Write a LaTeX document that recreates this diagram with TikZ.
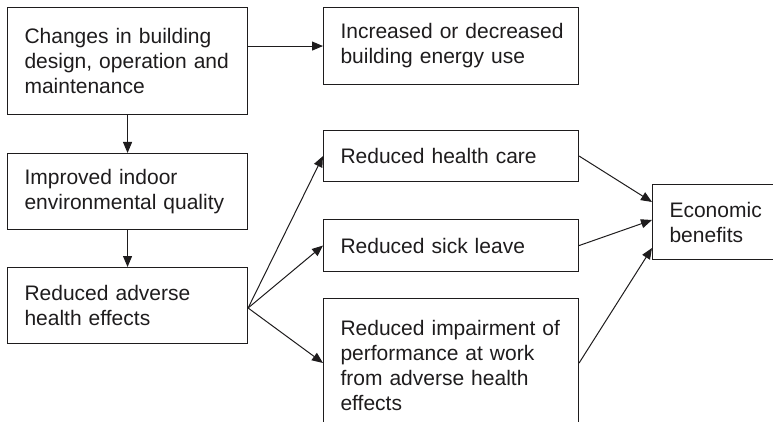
\documentclass[tikz,border=0pt]{standalone}
\usepackage{fontspec}
\setmainfont{Liberation Sans}
\usetikzlibrary{arrows.meta,calc}
\definecolor{ink}{RGB}{30,28,29}
\begin{document}
\begin{tikzpicture}[x=1pt,y=-1pt,
  boxnode/.style={draw=ink, text=ink, line width=1.1pt, anchor=north west, align=left,
    inner xsep=17pt, inner ysep=0pt, font=\fontsize{21}{25}\selectfont},
  conn/.style={draw=ink, line width=1pt, -{Triangle[length=11pt,width=9pt]}}]
\clip (0,0) rectangle (773,422);
\node[boxnode, text width=206pt, minimum height=107pt] (b1) at (7,7)
  {Changes in building\\\mbox{design, operation and}\\maintenance};
\node[boxnode, text width=221pt, minimum height=77pt] (b2) at (323,7)
  {\mbox{Increased or decreased}\\building energy use};
\node[boxnode, text width=206pt, minimum height=76pt] (b3) at (7,153)
  {Improved indoor\\\mbox{environmental quality}};
\node[boxnode, text width=206pt, minimum height=76pt] (b4) at (7,267)
  {Reduced adverse\\health effects};
\node[boxnode, text width=221pt, minimum height=51pt] (b5) at (323,130)
  {Reduced health care};
\node[boxnode, text width=221pt, minimum height=52pt] (b6) at (323,219)
  {Reduced sick leave};
\node[boxnode, text width=221pt, minimum height=134pt] (b7) at (323,298)
  {\mbox{Reduced impairment of}\\performance at work\\from adverse health\\effects};
\node[boxnode, text width=116pt, minimum height=75pt] (b8) at (652,184)
  {Economic\\benefits};
\draw[conn] (b1.east |- b2.west) -- (b2.west);
\draw[conn] (b1.south) -- (b3.north);
\draw[conn] (b3.south) -- (b4.north);
\coordinate (fan) at ($(b4.north east)+(0,41)$);
\draw[conn] (fan) -- (b5.west);
\draw[conn] (fan) -- (b6.west);
\draw[conn] (fan) -- ($(b7.north west)+(0,65)$);
\draw[conn] (b5.east) -- ($(b8.north west)+(0,18)$);
\draw[conn] (b6.east) -- ($(b8.north west)+(0,36)$);
\draw[conn] ($(b7.north east)+(0,65)$) -- ($(b8.north west)+(0,64)$);
\end{tikzpicture}
\end{document}
